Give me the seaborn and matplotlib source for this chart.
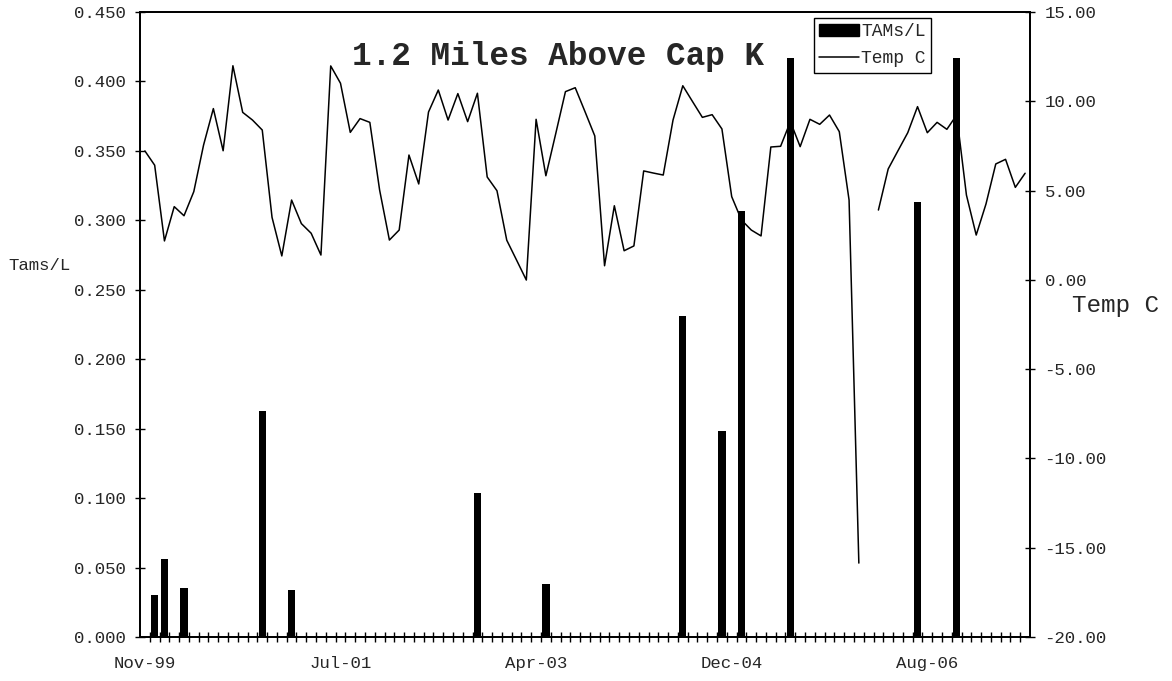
import numpy as np
import pandas as pd
import matplotlib
matplotlib.use('Agg')
import matplotlib.pyplot as plt
from matplotlib.patches import Patch
from matplotlib.lines import Line2D
from matplotlib.ticker import FormatStrFormatter, FixedLocator
import seaborn as sns

# sample number (category index) for each TAMs/L bar and its value
tams_idx = [1, 2, 4, 12, 15, 34, 41, 55, 59, 61, 66, 79, 83]
tams_val = [0.030, 0.056, 0.035, 0.163, 0.034, 0.104, 0.038,
            0.231, 0.148, 0.307, 0.417, 0.313, 0.417]

# water temperature, one value per sample (None = no reading)
temp_c = [7.22, 6.42, 2.18, 4.10, 3.59, 4.94, 7.55, 9.59, 7.23, 11.99,
          9.38, 8.95, 8.39, 3.50, 1.34, 4.47, 3.15, 2.61, 1.39, 11.98,
          11.01, 8.26, 9.03, 8.82, 5.03, 2.23, 2.79, 6.99, 5.37, 9.40,
          10.63, 8.95, 10.43, 8.86, 10.45, 5.76, 4.99, 2.22, 1.11, -0.01,
          8.99, 5.83, 8.17, 10.54, 10.76, 9.42, 8.06, 0.79, 4.15, 1.63,
          1.90, 6.10, 5.98, 5.87, 8.95, 10.87, 9.98, 9.10, 9.25, 8.45,
          4.66, 3.35, 2.79, 2.46, 7.44, 7.48, 8.86, 7.46, 8.99, 8.71,
          9.23, 8.30, 4.47, -15.86, None, 3.91, 6.21, 7.23, 8.24, 9.70,
          8.24, 8.82, 8.43, 9.23, 4.75, 2.51, 4.25, 6.49, 6.75, 5.18,
          5.97]

tick_pos = [0, 20, 40, 60, 80]
tick_labels = ['Nov-99', 'Jul-01', 'Apr-03', 'Dec-04', 'Aug-06']

sns.set_theme(style='white')
plt.rcParams['font.family'] = ['Liberation Mono', 'DejaVu Sans Mono']
plt.rcParams['axes.unicode_minus'] = False

n = len(temp_c)
line_df = pd.DataFrame({'idx': np.arange(n),
                        'temp': pd.to_numeric(pd.Series(temp_c), errors='coerce')})
# split into segments so the missing reading leaves a gap
line_df['seg'] = line_df['temp'].isna().cumsum()
line_df = line_df.dropna()

fig = plt.figure(figsize=(11.72, 6.81), dpi=100)
ax = fig.add_axes([140 / 1172, 1 - 637 / 681, 890 / 1172, 625 / 681])
ax2 = ax.twinx()

sns.barplot(x=tams_idx, y=tams_val, native_scale=True, width=0.75,
            color='black', saturation=1, linewidth=0, errorbar=None, ax=ax)
sns.lineplot(data=line_df, x='idx', y='temp', units='seg', estimator=None,
             color='black', lw=1.1, legend=False, ax=ax2)

ax.set_xlim(-0.5, n - 0.5)
ax.set_ylim(0, 0.45)
ax.set_yticks(np.arange(0, 0.451, 0.05))
ax.yaxis.set_major_formatter(FormatStrFormatter('%.3f'))
ax2.set_ylim(-20, 15)
ax2.set_yticks(np.arange(-20, 15.1, 5))
ax2.yaxis.set_major_formatter(FormatStrFormatter('%.2f'))

ax.set_xticks(tick_pos)
ax.set_xticklabels(tick_labels)
ax.xaxis.set_minor_locator(FixedLocator(np.arange(0.5, n - 0.5, 1)))
ax.tick_params(axis='x', which='major', length=0, pad=14, labelsize=12.5)
ax.tick_params(axis='x', which='minor', direction='inout', length=7,
               width=1, color='black', bottom=True)
ax.tick_params(axis='y', direction='inout', length=7, width=1,
               color='black', left=True, labelsize=12.5, pad=7)
ax2.tick_params(axis='y', direction='inout', length=7, width=1,
                color='black', right=True, labelsize=12.5, pad=7)

for a in (ax, ax2):
    for s in a.spines.values():
        s.set_color('black')
        s.set_linewidth(1.3)
    a.grid(False)

ax.set_xlabel('')
ax2.set_xlabel('')
ax.set_ylabel('Tams/L', rotation=0, ha='left', va='center', fontsize=12.5)
ax.yaxis.set_label_coords(-0.148, 0.594)
ax2.set_ylabel('Temp C', rotation=0, ha='left', va='center', fontsize=17.5)
ax2.yaxis.set_label_coords(1.047, 0.531)

fig.text(558 / 1172, 1 - 57 / 681, '1.2 Miles Above Cap K', ha='center',
         va='center', fontsize=23.5, fontweight='bold')

handles = [Patch(facecolor='black', edgecolor='black', label='TAMs/L'),
           Line2D([], [], color='black', lw=1.1, label='Temp C')]
leg = fig.legend(handles=handles, loc='upper left',
                 bbox_to_anchor=(814 / 1172, 1 - 18 / 681),
                 bbox_transform=fig.transFigure, borderaxespad=0,
                 fancybox=False, framealpha=1, edgecolor='black',
                 fontsize=13, handlelength=2.2, handletextpad=0.1,
                 borderpad=0.3, labelspacing=0.55)
leg.get_frame().set_linewidth(1)

fig.savefig('out.png', dpi=100)
